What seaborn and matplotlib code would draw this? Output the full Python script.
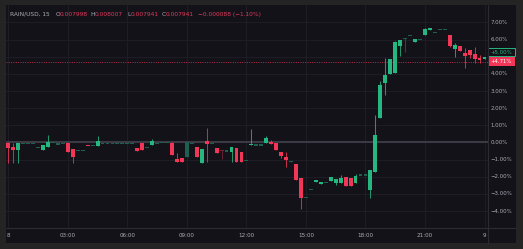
import numpy as np
import pandas as pd
import matplotlib
matplotlib.use("Agg")
import matplotlib.pyplot as plt
from matplotlib.patches import Rectangle
import seaborn as sns

# ---------------- data (percent change vs. reference) ----------------
open_pct = [-0.01, -0.25, -0.46, -0.05, -0.05, -0.05, -0.28, -0.46, -0.26, 0.01,
            -0.09, -0.05, -0.01, -0.38, -0.46, -0.46, -0.15, -0.16, -0.19, -0.05,
            -0.05, -0.05, -0.05, -0.05, -0.05, -0.05, -0.30, -0.05, -0.28, -0.15,
            -0.05, -0.01, -0.01, -0.05, -0.98, -0.92, -0.83, -0.05, -0.25, -1.21,
            0.09, -0.05, -0.30, -0.44, -0.50, -0.57, -0.30, -0.54, -1.06, -0.15,
            -0.15, -0.15, -0.01, 0.03, -0.05, -0.55, -0.86, -1.16, -1.24, -2.07,
            -3.20, -2.73, -2.29, -2.44, -2.32, -2.26, -2.35, -2.35, -2.00, -2.05,
            -2.35, -1.90, -1.90, -2.75, -1.74, 1.45, 3.49, 3.98, 4.04, 5.65,
            6.08, 6.25, 5.88, 6.02, 6.25, 6.58, 6.43, 6.60, 6.60, 6.25,
            5.46, 5.63, 5.24, 5.38, 5.18, 4.95, 4.87]
close_pct = [-0.30, -0.42, -0.01, -0.05, -0.05, -0.05, -0.28, -0.15, 0.01, 0.01,
             -0.09, -0.05, -0.54, -0.83, -0.46, -0.46, -0.17, -0.16, 0.09, -0.05,
             -0.05, -0.05, -0.05, -0.05, -0.05, -0.05, -0.50, -0.42, -0.28, 0.09,
             -0.05, -0.01, -0.01, -0.73, -1.12, -1.12, 0.03, -0.05, -0.86, -0.38,
             -0.11, -0.05, -0.63, -0.50, -0.50, -0.25, -1.16, -1.12, -1.06, -0.12,
             -0.15, -0.15, 0.25, -0.09, -0.44, -0.77, -1.04, -1.06, -2.21, -3.22,
             -3.20, -2.73, -2.21, -2.29, -2.32, -2.03, -2.15, -2.07, -2.52, -2.56,
             -1.94, -1.90, -1.90, -1.59, 0.44, 3.35, 3.96, 4.85, 5.85, 5.96,
             6.08, 6.25, 6.02, 6.02, 6.60, 6.68, 6.43, 6.60, 6.60, 5.65,
             5.67, 5.34, 5.05, 5.12, 4.89, 4.80, 5.00]
high_pct = [0.00, -0.01, -0.01, -0.05, -0.05, -0.05, -0.28, -0.15, 0.44, 0.01,
            -0.09, -0.05, -0.01, -0.38, -0.46, -0.46, -0.15, -0.16, 0.38, -0.05,
            -0.05, -0.05, -0.05, -0.05, -0.05, -0.05, -0.30, -0.05, -0.28, 0.20,
            -0.05, -0.01, -0.01, 0.03, -0.60, -0.92, 0.03, -0.05, -0.25, -0.38,
            0.83, -0.05, -0.30, -0.44, -0.50, -0.25, -0.30, -0.54, -1.06, 0.79,
            -0.15, -0.15, 0.38, 0.15, -0.05, -0.55, -0.54, -1.06, -1.24, -2.07,
            -3.20, -2.73, -2.21, -2.29, -2.32, -2.03, -2.15, -1.90, -2.00, -2.05,
            -1.82, -1.90, -1.90, -1.59, 1.60, 3.59, 4.91, 4.85, 5.94, 5.96,
            6.08, 6.25, 6.02, 6.02, 6.68, 6.68, 6.43, 6.60, 6.60, 6.25,
            5.82, 5.63, 5.50, 5.38, 5.59, 5.12, 5.00]
low_pct = [-1.20, -1.18, -1.20, -0.05, -0.05, -0.05, -0.28, -0.46, -0.26, 0.01,
           -0.09, -0.05, -0.54, -1.18, -0.46, -0.46, -0.17, -0.16, -0.19, -0.05,
           -0.05, -0.05, -0.05, -0.05, -0.05, -0.05, -0.50, -0.42, -0.28, -0.15,
           -0.05, -0.01, -0.01, -0.73, -1.12, -1.12, -0.83, -0.05, -0.86, -1.21,
           -1.16, -0.05, -0.63, -0.96, -0.50, -1.12, -1.16, -1.12, -1.06, -0.15,
           -0.15, -0.15, -0.01, -0.09, -0.44, -0.92, -1.41, -1.16, -2.21, -3.88,
           -3.20, -2.73, -2.29, -2.44, -2.32, -2.26, -2.50, -2.35, -2.52, -2.56,
           -2.35, -1.90, -1.90, -3.22, -1.74, 1.45, 2.77, 3.98, 4.04, 5.05,
           5.26, 6.25, 5.88, 6.02, 6.25, 6.58, 6.43, 6.60, 6.60, 5.59,
           5.01, 5.34, 4.36, 4.91, 4.66, 4.66, 4.87]
dim_idx = [3, 4, 5, 6, 9, 10, 11, 14, 15, 17, 19, 20, 21, 22, 23, 24, 25, 28,
           30, 31, 32, 36, 37, 41, 43, 44, 48, 50, 51, 57, 60, 61, 64, 71, 72,
           80, 81, 83, 86, 87, 88]
y_ticks = [7, 6, 4, 3, 2, 1, 0, -1, -2, -3, -4]
y_tick_labels = ["7.00%", "6.00%", "4.00%", "3.00%", "2.00%", "1.00%", "0.00%",
                 "\u22121.00%", "\u22122.00%", "\u22123.00%", "\u22124.00%"]
x_tick_pos = [0, 12, 24, 36, 48, 60, 72, 84, 96]
x_tick_labels = ["8", "03:00", "06:00", "09:00", "12:00", "15:00", "18:00", "21:00", "9"]
last_pct = 5.00
marker_pct = 4.71
title_parts = [("RAIN/USD, 15", "g"), ("O", "g"), ("0.007998", "r"), ("H", "g"), ("0.008007", "r"),
               ("L", "g"), ("0.007941", "r"), ("C", "g"), ("0.007941", "r"),
               ("\u22120.000088 (\u22121.10%)", "r")]
title_x = [10, 55.3, 59.2, 90.7, 94.8, 127.2, 130.5, 161.5, 165.5, 197.5]

df = pd.DataFrame({"open": open_pct, "high": high_pct, "low": low_pct, "close": close_pct})
df["t"] = np.arange(len(df))
df["dim"] = df["t"].isin(dim_idx)

# ---------------- style ----------------
OUTER = "#242424"
PANEL = "#141219"
GRID = "#1f1d26"
SEP = "#2c2b34"
GREEN = "#26b67f"
RED = "#f23658"
DGREEN = "#1d6050"
DRED = "#7d2236"
TXT = "#a9acb5"
TRED = "#e0385a"

sns.set_theme(style="dark")
plt.rcParams["font.family"] = ["DejaVu Sans"]

W, H = 523, 249
fig = plt.figure(figsize=(W / 100, H / 100), dpi=100)
fig.patch.set_facecolor(OUTER)
fig.add_artist(Rectangle((6 / W, (H - 243) / H), (516 - 6) / W, (243 - 5) / H,
                         transform=fig.transFigure, facecolor=PANEL, edgecolor="none", zorder=0))

ax = fig.add_axes([6 / W, (H - 228) / H, (487.5 - 6) / W, (228 - 5) / H])
ax.set_facecolor(PANEL)
ax.set_xlim(-0.46, 96.6)
ax.set_ylim(-4.99, 8.02)
ax.set_yticks(range(-4, 8))
ax.set_xticks(x_tick_pos)
ax.grid(True, color=GRID, lw=0.7)
ax.tick_params(left=False, bottom=False, labelleft=False, labelbottom=False)
for s in ax.spines.values():
    s.set_visible(False)

ax.axhline(0, color="#3b3943", lw=1.5, zorder=1)
ax.axhline(marker_pct, color=RED, lw=0.7, ls=(0, (1, 1.4)), alpha=0.75, zorder=1)

up = df["close"] >= df["open"]
colors = np.where(up, np.where(df["dim"], DGREEN, GREEN), np.where(df["dim"], DRED, RED))
body_lo = np.minimum(df["open"], df["close"])
body_h = (df["close"] - df["open"]).abs()
min_h = 0.065
adj = body_h < min_h
body_bottom = np.where(adj, body_lo - (min_h - body_h) / 2, body_lo)
body_h = np.where(adj, min_h, body_h)

ax.vlines(df["t"], df["low"], df["high"], colors=colors, lw=0.75, alpha=0.8, zorder=2)
ax.bar(df["t"], body_h, bottom=body_bottom, width=0.78, color=colors, linewidth=0, zorder=3)

# ---------------- overlay in pixel coords ----------------
ov = fig.add_axes([0, 0, 1, 1])
ov.set_xlim(0, W)
ov.set_ylim(H, 0)
ov.axis("off")
ov.patch.set_alpha(0)

def py(v):
    return H - ax.transData.transform((0, v))[1]

def px(t):
    return ax.transData.transform((t, 0))[0]

ov.plot([487.5, 487.5], [5, 243], color=SEP, lw=0.8)
ov.plot([6, 516], [228, 228], color=SEP, lw=0.8)

fs = 3.85
for v, lab in zip(y_ticks, y_tick_labels):
    ov.text(490.8, py(v), lab, ha="left", va="center", fontsize=fs, color=TXT)

for t, lab in zip(x_tick_pos, x_tick_labels):
    ov.text(px(t), 235.8, lab, ha="center", va="center", fontsize=4.1, color=TXT)

# price labels
cg = py(last_pct) - 4.6
ov.add_patch(Rectangle((487.9, cg - 4.0), 26.8, 8.0, facecolor=PANEL, edgecolor=GREEN, lw=0.7))
ov.text(490.5, cg, "+5.00%", ha="left", va="center", fontsize=fs, color=GREEN)
cr = py(marker_pct)
ov.add_patch(Rectangle((487.9, cr - 4.3), 26.8, 8.6, facecolor=RED, edgecolor="none"))
ov.text(490.5, cr, "+4.71%", ha="left", va="center", fontsize=fs, color="white")

for (txt, c), x in zip(title_parts, title_x):
    ov.text(x, 14.2, txt, ha="left", va="center", fontsize=4.25,
            color=TXT if c == "g" else TRED)

fig.savefig("out.png", dpi=100, facecolor=fig.get_facecolor())
